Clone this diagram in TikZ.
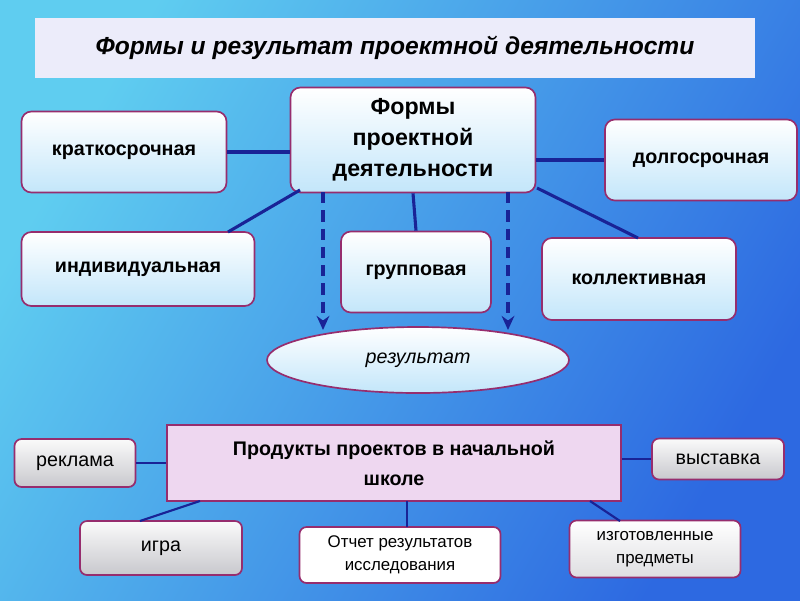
\documentclass[tikz,border=0pt]{standalone}
\usepackage{fontspec}
\setmainfont{Liberation Sans}
\usetikzlibrary{arrows.meta,shapes.geometric}
\definecolor{bgLight}{RGB}{95,205,240}
\definecolor{bgDark}{RGB}{45,105,225}
\definecolor{edgePurple}{RGB}{150,45,110}
\definecolor{lineBlue}{RGB}{25,35,150}
\definecolor{boxTop}{RGB}{255,255,255}
\definecolor{boxBot}{RGB}{195,230,250}
\definecolor{prodFill}{RGB}{238,215,240}
\definecolor{grayTop}{RGB}{250,250,250}
\definecolor{grayBot}{RGB}{200,200,205}
\definecolor{titleFill}{RGB}{236,236,250}
\begin{document}
\begin{tikzpicture}[x=0.025cm,y=-0.025cm,
  every node/.style={font=\fontsize{14}{17}\selectfont, text=black},
  formbox/.style n args={2}{draw=edgePurple, line width=1.2pt, rounded corners=7pt,
    top color=boxTop, bottom color=boxBot, minimum width=#1*0.025cm,
    minimum height=#2*0.025cm, align=center, font=\fontsize{14}{17}\selectfont\bfseries},
  prodbox/.style n args={2}{draw=edgePurple, line width=1.2pt, rounded corners=5pt,
    top color=grayTop, bottom color=grayBot, minimum width=#1*0.025cm,
    minimum height=#2*0.025cm, align=center},
  link/.style={draw=lineBlue, line width=2.2pt},
  dlink/.style={draw=lineBlue, line width=2.2pt, dash pattern=on 8pt off 5pt,
    -{Stealth[length=10pt, width=9pt]}},
]
\shade[left color=bgLight, right color=bgDark, shading angle=60] (0,0) rectangle (800,600);
\useasboundingbox (0,0) rectangle (800,600);
\node[fill=titleFill, minimum width=720*0.025cm, minimum height=60*0.025cm,
  font=\fontsize{17.5}{21}\selectfont\bfseries\itshape] (title) at (395,48)
  {Формы и результат проектной деятельности};
% forms
\node[formbox={245}{105}, font=\fontsize{16.5}{22}\selectfont\bfseries] (forms) at (413,140) {Формы\\проектной\\деятельности};
\node[formbox={205}{81}] (short) at (124,152) {краткосрочная};
\node[formbox={192}{81}] (long) at (701,160) {долгосрочная};
\node[formbox={233}{74}] (indiv) at (138,269) {индивидуальная};
\node[formbox={150}{81}] (group) at (416,272) {групповая};
\node[formbox={194}{82}] (coll) at (639,279) {коллективная};
\node[ellipse, draw=edgePurple, line width=1.2pt, top color=boxTop, bottom color=boxBot,
  minimum width=302*0.025cm, minimum height=66*0.025cm, inner sep=0pt,
  font=\fontsize{14}{17}\selectfont\itshape] (result) at (418,360) {результат};
\coordinate (dA) at (323,192);
\coordinate (dB) at (508,192);
\draw[link] (short.east) -- (forms.west |- short.east);
\draw[link] (forms.east |- long.west) -- (long.west);
\draw[link] (300,190) -- (228,232);
\draw[link] (forms.south) -- (group.north);
\draw[link] (537,188) -- (638,238);
\draw[dlink] (dA) -- (323,330);
\draw[dlink] (dB) -- (508,330);
% products
\node[draw=edgePurple, line width=1.2pt, fill=prodFill, minimum width=454*0.025cm,
  minimum height=76*0.025cm, align=center, font=\fontsize{14}{21}\selectfont\bfseries]
  (prod) at (394,463) {Продукты проектов в начальной\\школе};
\node[prodbox={121}{48}] (ad) at (75,463) {реклама};
\node[prodbox={132}{41}] (expo) at (718,459) {выставка};
\node[prodbox={162}{54}] (game) at (161,548) {игра};
\node[prodbox={201}{56}, top color=white, bottom color=white,
  font=\fontsize{12}{16}\selectfont] (report) at (400,555) {Отчет результатов\\исследования};
\node[prodbox={171}{57}, top color=white, bottom color=grayBot!60,
  font=\fontsize{12}{16}\selectfont] (items) at (655,549) {изготовленные\\предметы};
\draw[link, line width=1.5pt] (ad.east) -- (prod.west |- ad.east);
\draw[link, line width=1.5pt] (prod.east |- expo.west) -- (expo.west);
\draw[link, line width=1.5pt] (200,501) -- (140,521);
\draw[link, line width=1.5pt] (407,501) -- (407,527);
\draw[link, line width=1.5pt] (590,501) -- (620,521);
\end{tikzpicture}
\end{document}
